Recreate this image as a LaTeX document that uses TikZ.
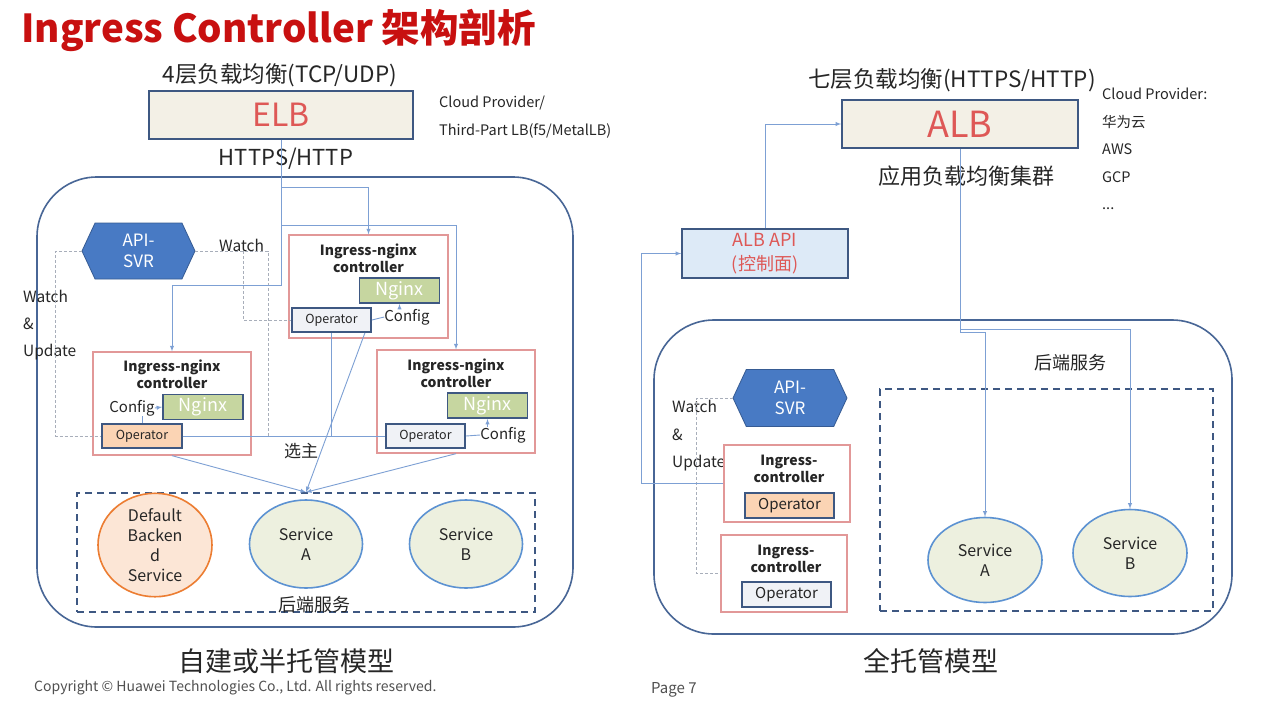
\documentclass[tikz,border=0pt]{standalone}
\usepackage{fontspec}
\setmainfont{Noto Sans CJK SC}
\usetikzlibrary{shapes.geometric,shapes.symbols}

\newcommand\fsz[2]{\fontsize{#1}{#2}\selectfont}

\definecolor{hwred}{RGB}{200,16,16}
\definecolor{boxblue}{RGB}{62,88,130}
\definecolor{framec}{RGB}{72,102,150}
\definecolor{linkc}{RGB}{125,160,212}
\definecolor{pinkc}{RGB}{226,152,152}
\definecolor{nginxc}{RGB}{198,214,160}
\definecolor{peachc}{RGB}{251,212,180}
\definecolor{greyc}{RGB}{240,242,246}
\definecolor{hexc}{RGB}{72,122,196}
\definecolor{lbfill}{RGB}{243,240,230}
\definecolor{lbtext}{RGB}{222,88,86}
\definecolor{apifill}{RGB}{221,234,247}
\definecolor{svcfill}{RGB}{237,240,223}
\definecolor{svcline}{RGB}{92,146,210}
\definecolor{orangec}{RGB}{236,125,50}
\definecolor{dflfill}{RGB}{252,230,214}
\definecolor{textc}{RGB}{38,38,38}
\definecolor{watchc}{RGB}{168,174,186}
\definecolor{copyc}{RGB}{80,80,80}

\tikzset{
frame/.style={draw=framec, line width=1.6pt, rounded corners=60pt},
lbbox/.style={draw=boxblue, line width=1.6pt, fill=lbfill, text=lbtext},
apibox/.style={draw=boxblue, line width=1.6pt, fill=apifill, text=lbtext, align=center, font=\fsz{18}{24}},
ctrlbox/.style={draw=pinkc, line width=1.3pt},
ctitle/.style={align=center, font=\bfseries\fsz{14}{17}},
nginxbox/.style={draw=boxblue, line width=1.8pt, fill=nginxc, text=white, minimum width=80pt, minimum height=25pt, font=\fsz{18}{20}},
opbox/.style={draw=boxblue, line width=1.8pt, fill=greyc, minimum width=79pt, minimum height=24pt, font=\fsz{12.5}{15}},
hexa/.style={signal, signal to=east and west, signal pointer angle=130, draw=hexc!75!black, line width=0.8pt, fill=hexc, text=white, minimum width=113pt, minimum height=56pt, align=center, font=\fsz{17}{21}},
svc/.style={ellipse, draw=svcline, line width=1.6pt, fill=svcfill, align=center, minimum width=113pt, minimum height=87pt, font=\fsz{16}{20}},
backend/.style={draw=boxblue, line width=1.6pt, dash pattern=on 7pt off 5pt},
link/.style={draw=linkc, line width=0.9pt, -latex},
watch/.style={draw=watchc, line width=0.8pt, dash pattern=on 3pt off 2pt},
cfg/.style={font=\fsz{15}{18}}
}

\begin{document}
\begin{tikzpicture}[x=1pt,y=-1pt,every node/.append style={inner sep=0pt, text=textc}]
\useasboundingbox (0,0) rectangle (1272,702);
\fill[white] (0,0) rectangle (1272,702);

\node[anchor=west, text=hwred, font=\bfseries\fsz{38.5}{44}] (title) at (21,30) {Ingress Controller 架构剖析};

% left: self-built model
\draw[frame] (37,177) rectangle (573,627);
\node[font=\fsz{22.5}{26}] (l4) at (280,75) {4层负载均衡(TCP/UDP)};
\node[lbbox, minimum width=264pt, minimum height=48pt, font=\fsz{32}{36}] (elb) at (281,115) {ELB};
\node[anchor=west, align=left, font=\fsz{14.5}{28}] (cpL) at (439,117) {Cloud Provider/\\Third-Part LB(f5/MetalLB)};
\node[font=\fsz{22}{26}] (httpsL) at (286,159) {HTTPS/HTTP};

\node[hexa] (hexL) at (138.5,251) {API-\\SVR};
\node[anchor=west, font=\fsz{15.5}{20}] (watchL) at (219,245) {Watch};
\node[anchor=west, align=left, font=\fsz{15.5}{27}] (wuL) at (23,325) {Watch\\\&\\Update};

\node[ctrlbox, minimum width=159pt, minimum height=103pt] (ctrlA) at (368.5,286.5) {};
\node[ctitle] (tA) at (368.5,258) {Ingress-nginx\\controller};
\node[nginxbox] (nginxA) at (399.5,290.5) {Nginx};
\node[opbox] (opA) at (331.5,320) {Operator};
\node[cfg] (cfgA) at (407,317) {Config};

\node[ctrlbox, minimum width=158pt, minimum height=103pt] (ctrlB) at (172,403.5) {};
\node[ctitle] (tB) at (172,374.5) {Ingress-nginx\\controller};
\node[nginxbox] (nginxB) at (203,407) {Nginx};
\node[opbox, fill=peachc, minimum width=80pt] (opB) at (142,436) {Operator};
\node[cfg] (cfgB) at (132,408) {Config};

\node[ctrlbox, minimum width=158pt, minimum height=103pt] (ctrlC) at (456,401.5) {};
\node[ctitle] (tC) at (456,373.5) {Ingress-nginx\\controller};
\node[nginxbox] (nginxC) at (487.5,405.5) {Nginx};
\node[opbox] (opC) at (425.5,436) {Operator};
\node[cfg] (cfgC) at (503,435) {Config};

\node[font=\fsz{17}{21}] (elect) at (301,451) {选主};

\node[backend, minimum width=458pt, minimum height=119pt] (bkL) at (306,552.5) {};
\node[svc, draw=orangec, fill=dflfill, minimum width=114pt, minimum height=88pt] (dflt) at (155,545) {Default\\Backen\\d\\Service};
\node[svc, minimum height=88pt] (svcLA) at (306,544) {Service\\A};
\node[svc, minimum height=88pt] (svcLB) at (466,544) {Service\\B};
\node[font=\fsz{18}{22}] (bkLtxt) at (314,605) {后端服务};
\node[font=\fsz{27}{32}] (modelL) at (286,661) {自建或半托管模型};

\coordinate (wA) at (243,251);
\coordinate (wB) at (268,251);
\draw[watch] (hexL.west) -- ++(-26,0) |- (opB.west);
\draw[watch] (hexL.east) -- (wB) -- (wB |- opB.east);
\draw[watch] (wA) |- (opA.west);

\draw[link] (elb.south) -- (elb.south |- 0,285) -| (ctrlB.north);
\draw[link] (elb.south |- 0,187) -| (ctrlA.north);
\draw[link] (elb.south |- 0,225) -| (ctrlC.north);

\draw[link,-] (opA.east) -- (cfgA.west);
\draw[link] (cfgA.north -| nginxA.south) -- (nginxA.south);
\draw[link] (cfgB.east) -- (nginxB.west);
\draw[link,-] ([xshift=10pt]cfgB.south) -- ([xshift=10pt]cfgB.south |- opB.north);
\draw[link,-] (opC.east) -- (cfgC.west);
\draw[link] (cfgC.north -| nginxC.south) -- (nginxC.south);

\draw[link,-] (opB.east) -- (opC.west);
\draw[link,-] (opA.south) -- (opA.south |- opB.east);
\draw[link] (ctrlB.south) -- (bkL.north);
\draw[link] (ctrlC.south) -- (bkL.north);
\draw[link] ([xshift=-7pt]opA.south east) -- (bkL.north);

% right: fully managed model
\draw[frame] (654,320) rectangle (1232,634);
\node[font=\fsz{22.5}{26}] (l7) at (952,80) {七层负载均衡(HTTPS/HTTP)};
\node[lbbox, minimum width=236pt, minimum height=48pt, font=\fsz{36}{40}] (alb) at (960,124) {ALB};
\node[anchor=west, align=left, font=\fsz{14.5}{27.5}] (cpR) at (1102,149) {Cloud Provider:\\华为云\\AWS\\GCP\\...};
\node[font=\fsz{22}{26}] (albgrp) at (966,176) {应用负载均衡集群};
\node[apibox, minimum width=166pt, minimum height=49pt] (albapi) at (765,253.5) {ALB API\\(控制面)};

\node[font=\fsz{18}{22}] (bkRtxt) at (1070,363) {后端服务};
\node[hexa, minimum width=114pt, minimum height=57pt] (hexR) at (790,398) {API-\\SVR};
\node[anchor=west, align=left, font=\fsz{15.5}{27.5}] (wuR) at (672,436) {Watch\\\&\\Update};

\node[ctrlbox, minimum width=126pt, minimum height=77pt] (ictlA) at (787,483.5) {};
\node[ctitle] (tRA) at (789,468.5) {Ingress-\\controller};
\node[opbox, fill=peachc, minimum width=89pt, minimum height=25pt, font=\fsz{15}{18}] (opRA) at (789.5,505.5) {Operator};
\node[ctrlbox, minimum width=126pt, minimum height=77pt] (ictlB) at (784,573.5) {};
\node[ctitle] (tRB) at (786,558.5) {Ingress-\\controller};
\node[opbox, minimum width=89pt, minimum height=25pt, font=\fsz{15}{18}] (opRB) at (786.5,594.5) {Operator};

\node[backend, minimum width=333pt, minimum height=222pt] (bkR) at (1046.5,500) {};
\node[svc, minimum width=114pt, minimum height=85pt] (svcRA) at (985,560) {Service\\A};
\node[svc, minimum width=114pt, minimum height=87pt] (svcRB) at (1130,553) {Service\\B};
\node[font=\fsz{27}{32}] (modelR) at (931,661) {全托管模型};

\draw[watch] (hexR.west) -- ++(-36,0) |- (ictlB.west);
\draw[link] (albapi.north) |- (alb.west);
\draw[link] (ictlA.west) -| ([xshift=-40pt]albapi.west) -- (albapi.west);
\draw[link] (alb.south) -- (alb.south |- 0,332) -| (svcRA.north);
\draw[link] (alb.south |- 0,329) -| (svcRB.north);

\node[anchor=west, text=copyc, font=\fsz{14}{16}] (copy) at (34,688) {Copyright © Huawei Technologies Co., Ltd. All rights reserved.};
\node[anchor=west, text=copyc, font=\fsz{15}{18}] (page) at (651,690) {Page 7};
\end{tikzpicture}
\end{document}
